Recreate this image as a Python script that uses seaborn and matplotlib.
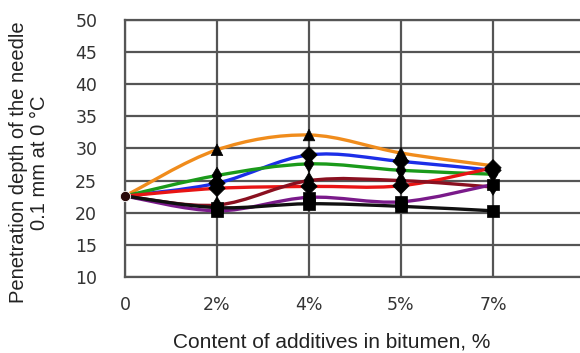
import numpy as np
import pandas as pd
import matplotlib
matplotlib.use("Agg")
import matplotlib.pyplot as plt
from matplotlib.path import Path
from matplotlib.patches import PathPatch
import seaborn as sns


# DATA
x_labels = ["0", "2%", "4%", "5%", "7%"]
x_pos = [0, 1, 2, 3, 4]

orange = [22.6, 29.8, 32.1, 29.3, 27.3]
blue = [22.6, 24.6, 29.0, 28.0, 26.6]
green = [22.6, 25.8, 27.6, 26.6, 26.0]
red = [22.6, 23.8, 24.1, 24.2, 27.0]
maroon = [22.6, 21.2, 25.0, 25.0, 24.0]
purple = [22.6, 20.3, 22.4, 21.7, 24.4]
black = [22.6, 20.8, 21.4, 21.0, 20.3]

series = {
    "orange": orange,
    "blue": blue,
    "green": green,
    "red": red,
    "maroon": maroon,
    "purple": purple,
    "black": black,
}

colors = {
    "orange": "#f08c1c",
    "blue": "#1c2ee8",
    "green": "#1a9a1a",
    "red": "#e81414",
    "maroon": "#8a1020",
    "purple": "#7a1a8a",
    "black": "#101010",
}

markers = {
    "orange": "^",
    "blue": "D",
    "green": "d",
    "red": "D",
    "maroon": "d",
    "purple": "s",
    "black": "s",
}

rows = []
for name, vals in series.items():
    for xp, v in zip(x_pos, vals):
        rows.append({"x": xp, "y": v, "series": name})
df = pd.DataFrame(rows)


# STYLE
sns.set_style("white")
plt.rcParams["font.family"] = ["Liberation Sans", "DejaVu Sans"]

fig = plt.figure(figsize=(5.8, 3.53), dpi=100)
ax = fig.add_axes([125 / 580, 76 / 353, 460 / 580, 257 / 353])

grid_col = "#555555"


# SMOOTH CURVES (Catmull-Rom as Bezier segments)
def smooth_path(xs, ys):
    xs = np.asarray(xs, float)
    ys = np.asarray(ys, float)
    verts = [(xs[0], ys[0])]
    codes = [Path.MOVETO]
    n = len(xs)
    for i in range(n - 1):
        x0, y0 = (xs[i - 1], ys[i - 1]) if i > 0 else (xs[i], ys[i])
        x1, y1 = xs[i], ys[i]
        x2, y2 = xs[i + 1], ys[i + 1]
        x3, y3 = (xs[i + 2], ys[i + 2]) if i + 2 < n else (x2, y2)
        c1 = (x1 + (x2 - x0) / 6, y1 + (y2 - y0) / 6)
        c2 = (x2 - (x3 - x1) / 6, y2 - (y3 - y1) / 6)
        verts += [c1, c2, (x2, y2)]
        codes += [Path.CURVE4] * 3
    return Path(verts, codes)


for name, vals in series.items():
    patch = PathPatch(
        smooth_path(x_pos, vals),
        facecolor="none",
        edgecolor=colors[name],
        lw=2.4,
        zorder=3,
        capstyle="round",
        joinstyle="round",
    )
    ax.add_patch(patch)


# MARKERS
sns.scatterplot(
    data=df[df["x"] > 0],
    x="x",
    y="y",
    style="series",
    markers=markers,
    color="black",
    s=70,
    edgecolor="black",
    linewidth=0.5,
    legend=False,
    zorder=4,
    ax=ax,
)
sns.scatterplot(
    data=df[df["x"] == 0].head(1),
    x="x",
    y="y",
    color="#2a0a0a",
    s=55,
    legend=False,
    zorder=4,
    ax=ax,
    clip_on=False,
)


# AXES
ax.set_xlim(0, 5)
ax.set_ylim(10, 50)
ax.set_xticks(x_pos)
ax.set_xticklabels(x_labels)
ax.set_yticks(np.arange(10, 51, 5))
ax.set_xticks([5], minor=True)

ax.grid(True, which="both", color=grid_col, lw=1.6)
ax.set_axisbelow(True)
for sp in ax.spines.values():
    sp.set_color(grid_col)
    sp.set_linewidth(1.6)

ax.tick_params(axis="both", length=0, labelsize=12.5, colors="#333333")
ax.tick_params(axis="x", pad=14)
ax.tick_params(axis="y", pad=20)
for lab in ax.get_xticklabels() + ax.get_yticklabels():
    lab.set_family(["Liberation Sans Narrow", "DejaVu Sans"])

ax.set_xlabel("Content of additives in bitumen, %", fontsize=15, color="#222222")
ax.set_ylabel("Penetration depth of the needle\n0.1 mm at 0 °C", fontsize=14.5,
              color="#222222", linespacing=1.15)
ax.xaxis.set_label_coords(0.45, -0.215)
ax.yaxis.set_label_coords(-0.165, 0.445)

fig.savefig("out.png", dpi=100)
